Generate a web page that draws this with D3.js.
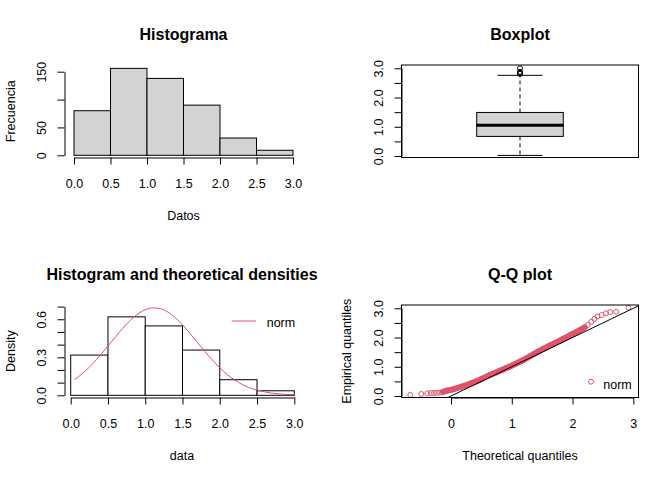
<!DOCTYPE html>
<html>
<head>
<meta charset="utf-8">
<script src="https://cdn.jsdelivr.net/npm/d3@7"></script>
<style>
  body { margin: 0; background: #fff; }
  text { font-family: "Liberation Sans", Arial, sans-serif; fill: #000; }
</style>
</head>
<body>
<svg id="chart" width="672" height="480"></svg>
<script>
// ---- histogram (top left) ----
var histBreaks = [0, 0.5, 1, 1.5, 2, 2.5, 3];
var histCounts = [80, 156, 138, 90, 31, 9];
var histXTicks = [0, 0.5, 1, 1.5, 2, 2.5, 3];
var histXLabels = ["0.0", "0.5", "1.0", "1.5", "2.0", "2.5", "3.0"];
var histYTicks = [0, 50, 100, 150];
var histYLabels = ["0", "50", "", "150"];

// ---- boxplot (top right) ----
var boxStats = [0.02, 0.67, 1.05, 1.49, 2.76];   // lower whisker, q1, median, q3, upper whisker
var boxOutliers = [2.81, 2.84, 2.88, 3.0];
var boxYTicks = [0, 0.5, 1, 1.5, 2, 2.5, 3];
var boxYLabels = ["0.0", "", "1.0", "", "2.0", "", "3.0"];

// ---- histogram + fitted normal (bottom left) ----
var densX = [0.05, 0.1, 0.2, 0.3, 0.4, 0.5, 0.6, 0.7, 0.8, 0.9, 1.0, 1.1, 1.2, 1.3, 1.4, 1.5,
             1.6, 1.7, 1.8, 1.9, 2.0, 2.1, 2.2, 2.3, 2.4, 2.5, 2.6, 2.7, 2.8, 2.9, 3.0];
var densY = [0.125, 0.145, 0.194, 0.252, 0.318, 0.388, 0.46, 0.53, 0.592, 0.642, 0.675, 0.69, 0.684, 0.658, 0.614, 0.556,
             0.489, 0.417, 0.346, 0.278, 0.217, 0.164, 0.121, 0.086, 0.059, 0.042, 0.027, 0.017, 0.011, 0.007, 0.005];
var densYTicks = [0, 0.1, 0.2, 0.3, 0.4, 0.5, 0.6, 0.7];
var densYLabels = ["0.0", "", "", "0.3", "", "", "0.6", ""];

// ---- Q-Q plot (bottom right) ----
var qqTheo = [-0.67, -0.49, -0.39, -0.33, -0.28, -0.23, -0.18, -0.13, -0.09,
  -0.05, 0.00, 0.05, 0.10, 0.15, 0.20, 0.25, 0.30, 0.35, 0.40, 0.45, 0.50, 0.55, 0.60, 0.65,
  0.70, 0.75, 0.80, 0.85, 0.90, 0.95, 1.00, 1.05, 1.10, 1.15, 1.20, 1.25, 1.30, 1.35, 1.40,
  1.45, 1.50, 1.55, 1.60, 1.65, 1.70, 1.75, 1.80, 1.85, 1.90, 1.95, 2.00, 2.05, 2.10, 2.15, 2.20,
  2.25, 2.31, 2.36, 2.41, 2.48, 2.55, 2.62, 2.72, 2.92];
var qqEmp = [0.04, 0.07, 0.09, 0.10, 0.10, 0.11, 0.12, 0.14, 0.17,
  0.19, 0.21, 0.24, 0.27, 0.30, 0.34, 0.37, 0.41, 0.45, 0.49, 0.53, 0.58, 0.63, 0.68, 0.73,
  0.77, 0.81, 0.86, 0.90, 0.95, 0.99, 1.04, 1.09, 1.14, 1.19, 1.24, 1.30, 1.36, 1.42, 1.48,
  1.54, 1.59, 1.64, 1.70, 1.75, 1.80, 1.85, 1.90, 1.96, 2.01, 2.07, 2.12, 2.17, 2.23, 2.29, 2.35,
  2.43, 2.54, 2.64, 2.72, 2.77, 2.83, 2.87, 2.88, 3.02];
var qqXTicks = [0, 1, 2, 3];
var qqXLabels = ["0", "1", "2", "3"];

var red = "#DF536B";
var svg = d3.select("#chart");
var tick = 7, labFs = 12.5;

function yAxis(g, scale, ticks, labels, x) {
  var ax = g.append("g")
      .attr("transform", "translate(" + x + ",0)")
      .call(d3.axisLeft(scale).tickValues(ticks).tickSize(tick).tickSizeOuter(0)
        .tickFormat(function(d, i) { return labels[i]; }))
      .attr("font-size", labFs);
  ax.selectAll("text")
      .attr("x", null).attr("dy", "0.35em")
      .attr("text-anchor", "middle")
      .attr("transform", "translate(-22.5,0) rotate(-90)");
}

function xAxis(g, scale, ticks, labels, y) {
  var ax = g.append("g")
      .attr("transform", "translate(0," + y + ")")
      .call(d3.axisBottom(scale).tickValues(ticks).tickSize(tick).tickSizeOuter(0)
        .tickFormat(function(d, i) { return labels[i]; }))
      .attr("font-size", labFs);
  ax.selectAll("text").attr("y", 26).attr("dy", "0.35em");
}

function label(g, txt, x, y, size, bold, rot) {
  var t = g.append("text")
    .attr("text-anchor", "middle").attr("font-size", size).text(txt);
  if (bold) t.attr("font-weight", "bold");
  if (rot) t.attr("transform", "translate(" + x + "," + y + ") rotate(-90)");
  else t.attr("x", x).attr("y", y);
  return t;
}

/* ------ HISTOGRAMA ------ */
var g1 = svg.append("g");
var x1 = d3.scaleLinear().domain([0, 3]).range([74, 293]);
var y1 = d3.scaleLinear().domain([0, 150]).range([155.3, 71.7]);
var histBins = histCounts.map(function(c, i) { return { x0: histBreaks[i], x1: histBreaks[i + 1], n: c }; });

g1.selectAll("rect.bar")
  .data(histBins)
  .enter().append("rect")
    .attr("class", "bar")
    .attr("x", function(d) { return x1(d.x0); })
    .attr("y", function(d) { return y1(d.n); })
    .attr("width", function(d) { return x1(d.x1) - x1(d.x0); })
    .attr("height", function(d) { return y1(0) - y1(d.n); })
    .attr("fill", "#D3D3D3").attr("stroke", "#000");

xAxis(g1, x1, histXTicks, histXLabels, 157.5);
yAxis(g1, y1, histYTicks, histYLabels, 64.5);
label(g1, "Histograma", 183.5, 39.5, 16, true);
label(g1, "Datos", 183.5, 219.5, labFs);
label(g1, "Frecuencia", 14.5, 111.3, labFs, false, true);

/* ------ BOXPLOT ------ */
var g2 = svg.append("g");
var y2 = d3.scaleLinear().domain([0, 3]).range([156, 68.3]);
var bx = 520;

g2.append("rect").attr("x", 401.5).attr("y", 65).attr("width", 237).attr("height", 92.5)
  .attr("fill", "none").attr("stroke", "#000");

g2.append("line").attr("x1", bx).attr("x2", bx).attr("y1", y2(boxStats[3])).attr("y2", y2(boxStats[4]))
  .attr("stroke", "#000").attr("stroke-dasharray", "4,3");
g2.append("line").attr("x1", bx).attr("x2", bx).attr("y1", y2(boxStats[1])).attr("y2", y2(boxStats[0]))
  .attr("stroke", "#000").attr("stroke-dasharray", "4,3");
[boxStats[0], boxStats[4]].forEach(function(v) {
  g2.append("line").attr("x1", bx - 22.5).attr("x2", bx + 22.5).attr("y1", y2(v)).attr("y2", y2(v)).attr("stroke", "#000");
});
g2.append("rect").attr("x", bx - 43.3).attr("width", 86.6)
  .attr("y", y2(boxStats[3])).attr("height", y2(boxStats[1]) - y2(boxStats[3]))
  .attr("fill", "#D3D3D3").attr("stroke", "#000");
g2.append("line").attr("x1", bx - 43.3).attr("x2", bx + 43.3).attr("y1", y2(boxStats[2])).attr("y2", y2(boxStats[2]))
  .attr("stroke", "#000").attr("stroke-width", 3);
g2.selectAll("circle.out")
  .data(boxOutliers)
  .enter().append("circle")
    .attr("class", "out")
    .attr("cx", bx).attr("cy", function(d) { return y2(d); }).attr("r", 2.5)
    .attr("fill", "none").attr("stroke", "#000");

yAxis(g2, y2, boxYTicks, boxYLabels, 401.5);
label(g2, "Boxplot", 520, 39.5, 16, true);

/* ------ DENSITY ------ */
var g3 = svg.append("g");
var x3 = d3.scaleLinear().domain([0, 3]).range([70.7, 294.3]);
var y3 = d3.scaleLinear().domain([0, 0.7]).range([395.3, 306.6]);
var nTotal = d3.sum(histCounts);
var densBins = histCounts.map(function(c, i) {
  var w = histBreaks[i + 1] - histBreaks[i];
  return { x0: histBreaks[i], x1: histBreaks[i + 1], d: c / (nTotal * w) };
});

g3.selectAll("rect.bar")
  .data(densBins)
  .enter().append("rect")
    .attr("class", "bar")
    .attr("x", function(d) { return x3(d.x0); })
    .attr("y", function(d) { return y3(d.d); })
    .attr("width", function(d) { return x3(d.x1) - x3(d.x0); })
    .attr("height", function(d) { return y3(0) - y3(d.d); })
    .attr("fill", "#fff").attr("stroke", "#000");

var densLine = d3.line()
  .x(function(d, i) { return x3(densX[i]); })
  .y(function(d) { return y3(d); })
  .curve(d3.curveMonotoneX);
g3.append("path").datum(densY).attr("d", densLine)
  .attr("fill", "none").attr("stroke", red);

xAxis(g3, x3, histXTicks, histXLabels, 397.5);
yAxis(g3, y3, densYTicks, densYLabels, 64.5);
label(g3, "Histogram and theoretical densities", 182, 279.5, 16, true);
label(g3, "data", 182, 459.5, labFs);
label(g3, "Density", 14.5, 351.2, labFs, false, true);
// legend
g3.append("line").attr("x1", 231.7).attr("x2", 256).attr("y1", 321).attr("y2", 321).attr("stroke", red);
g3.append("text").attr("x", 266.7).attr("y", 322.7).attr("dy", "0.35em").attr("font-size", labFs).text("norm");

/* ------ Q-Q PLOT ------ */
var g4 = svg.append("g");
var x4 = d3.scaleLinear().domain([0, 3]).range([451, 633.3]);
var y4 = d3.scaleLinear().domain([0, 3]).range([396, 308.3]);

svg.append("clipPath").attr("id", "qqclip")
  .append("rect").attr("x", 401.5).attr("y", 305).attr("width", 237).attr("height", 92.5);

// dense middle part: the circles overlap into a solid band
var qqIdx = d3.range(qqTheo.length);
var bandIdx = qqIdx.filter(function(i) { return qqTheo[i] >= -0.13 && qqTheo[i] <= 2.2; });
g4.append("path")
  .datum(bandIdx)
  .attr("d", d3.line()
    .x(function(i) { return x4(qqTheo[i]); })
    .y(function(i) { return y4(qqEmp[i]); }))
  .attr("fill", "none").attr("stroke", red).attr("stroke-width", 6)
  .attr("stroke-linecap", "round").attr("stroke-linejoin", "round");

g4.selectAll("circle.pt")
  .data(qqIdx)
  .enter().append("circle")
    .attr("class", "pt")
    .attr("cx", function(i) { return x4(qqTheo[i]); })
    .attr("cy", function(i) { return y4(qqEmp[i]); })
    .attr("r", 2.5)
    .attr("fill", "none").attr("stroke", red);

g4.append("line")
  .attr("clip-path", "url(#qqclip)")
  .attr("x1", x4(-1)).attr("y1", y4(-1)).attr("x2", x4(4)).attr("y2", y4(4))
  .attr("stroke", "#000");

g4.append("rect").attr("x", 401.5).attr("y", 305).attr("width", 237).attr("height", 92.5)
  .attr("fill", "none").attr("stroke", "#000");

xAxis(g4, x4, qqXTicks, qqXLabels, 397.5);
yAxis(g4, y4, boxYTicks, boxYLabels, 401.5);
label(g4, "Q-Q plot", 520, 279.5, 16, true);
label(g4, "Theoretical quantiles", 520, 459.5, labFs);
label(g4, "Empirical quantiles", 351, 351.2, labFs, false, true);
// legend
g4.append("circle").attr("cx", 591).attr("cy", 381.7).attr("r", 2.5).attr("fill", "none").attr("stroke", red);
g4.append("text").attr("x", 603.3).attr("y", 385).attr("dy", "0.35em").attr("font-size", labFs).text("norm");
</script>
</body>
</html>
